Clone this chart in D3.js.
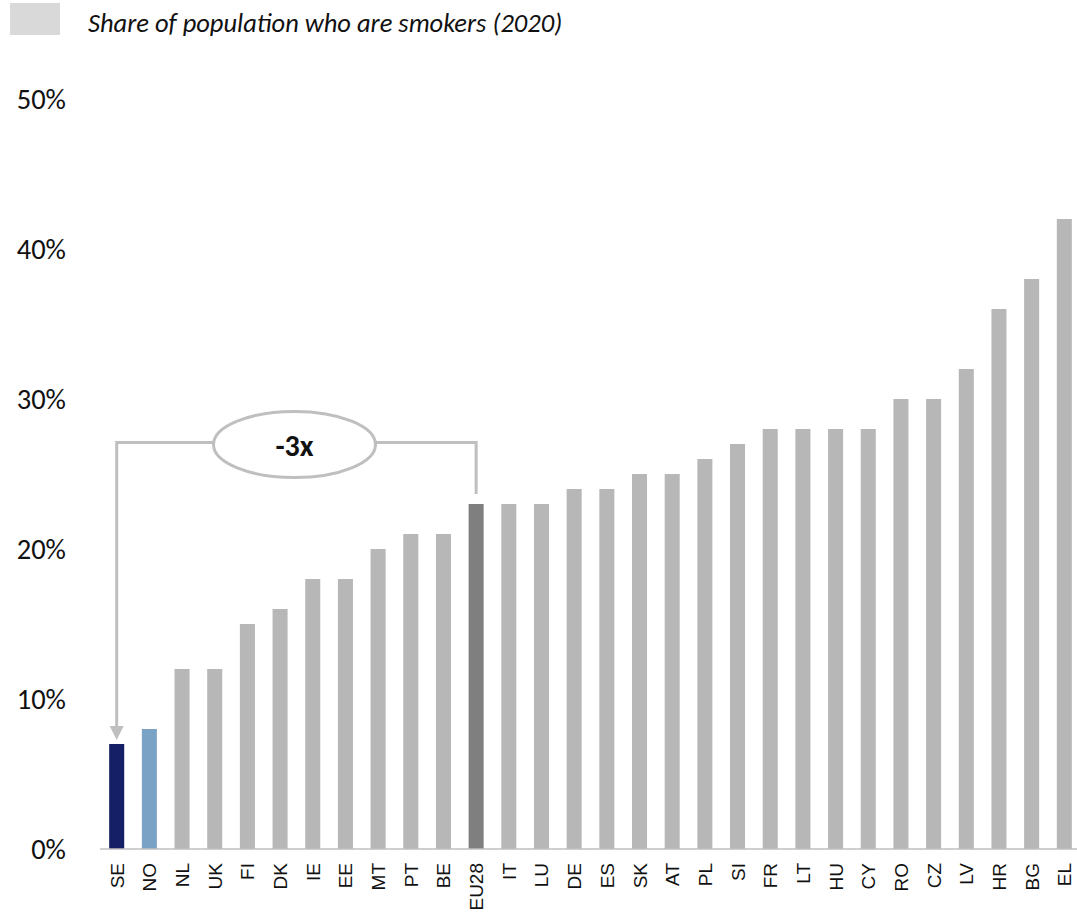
<!DOCTYPE html>
<html>
<head>
<meta charset="utf-8">
<script src="https://cdn.jsdelivr.net/npm/d3@7"></script>
<style>
  body { margin: 0; background: #fff; }
  text { font-family: Carlito, Lato, "Open Sans", sans-serif; }
  .xlab { font-family: "Liberation Sans", Arial, sans-serif; }
</style>
</head>
<body>
<svg id="chart" width="1077" height="915"></svg>
<script>
// data
const countries = ["SE","NO","NL","UK","FI","DK","IE","EE","MT","PT","BE","EU28","IT","LU","DE","ES","SK","AT","PL","SI","FR","LT","HU","CY","RO","CZ","LV","HR","BG","EL"];
const smokers = [7,8,12,12,15,16,18,18,20,21,21,23,23,23,24,24,25,25,26,27,28,28,28,28,30,30,32,36,38,42];
const yTicks = [0,10,20,30,40,50];
const legendLabel = "Share of population who are smokers (2020)";

let svg = d3.select("#chart");

let x = d3.scaleBand().domain(countries).range([101, 1080]).paddingInner(0.54).paddingOuter(0.25);
let y = d3.scaleLinear().domain([0, 50]).range([849, 99]);

// colour per bar
let barColor = function(c) {
  if (c == "SE") return "#141f66";
  if (c == "NO") return "#7aa2c5";
  if (c == "EU28") return "#7f7f7f";
  return "#b7b7b7";
};

// legend
svg.append("rect").attr("x", 10).attr("y", 3).attr("width", 50).attr("height", 32).attr("fill", "#d9d9d9");
svg.append("text").attr("x", 88).attr("y", 32).attr("font-size", 26.5).attr("font-style", "italic")
  .attr("fill", "#111").text(legendLabel);

// y labels (no axis line)
svg.selectAll(".ylab").data(yTicks).enter().append("text")
  .attr("class", "ylab")
  .attr("x", 66).attr("y", d => y(d) + 10)
  .attr("text-anchor", "end").attr("font-size", 28.5).attr("fill", "#111")
  .text(d => d + "%");

// bars
svg.selectAll(".bar").data(countries).enter().append("rect")
  .attr("class", "bar")
  .attr("x", d => x(d))
  .attr("y", (d, i) => y(smokers[i]))
  .attr("width", x.bandwidth())
  .attr("height", (d, i) => y(0) - y(smokers[i]))
  .attr("fill", d => barColor(d));

// baseline
svg.append("line").attr("x1", 100).attr("x2", 1077).attr("y1", y(0)).attr("y2", y(0))
  .attr("stroke", "#bfbfbf").attr("stroke-width", 1.5);

// x labels, rotated
svg.selectAll(".xlab").data(countries).enter().append("text")
  .attr("class", "xlab")
  .attr("transform", d => `translate(${x(d) + x.bandwidth() / 2 + 7},863) rotate(-90)`)
  .attr("text-anchor", "end").attr("font-size", 19).attr("fill", "#111")
  .text(d => d);

// -3x annotation
let seX = x("SE") + x.bandwidth() / 2;
let euX = x("EU28") + x.bandwidth() / 2;
let lineY = y(27.1);
let ann = svg.append("g").attr("stroke", "#bfbfbf").attr("stroke-width", 3).attr("fill", "none");
ann.append("path")
  .attr("d", `M${seX},${y(smokers[0]) - 18} V${lineY} H${euX} V${y(23) - 10}`);
ann.append("path")
  .attr("d", `M${seX - 7},${y(smokers[0]) - 18} L${seX + 7},${y(smokers[0]) - 18} L${seX},${y(smokers[0]) - 4} Z`)
  .attr("fill", "#bfbfbf").attr("stroke", "none");
ann.append("ellipse").attr("cx", 294.5).attr("cy", lineY + 2).attr("rx", 81).attr("ry", 33).attr("fill", "#fff");
svg.append("text").attr("x", 294.5).attr("y", lineY + 13).attr("text-anchor", "middle")
  .attr("font-size", 30).attr("font-weight", "bold").attr("fill", "#111").text("-3x");
</script>
</body>
</html>
